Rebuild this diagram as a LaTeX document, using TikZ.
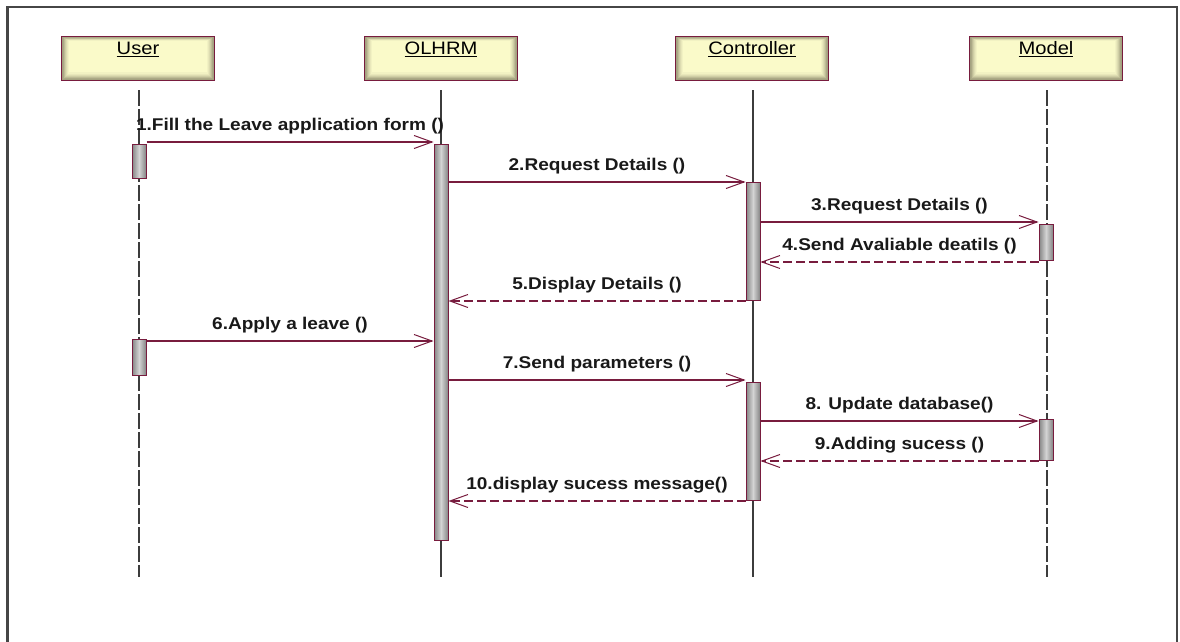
\documentclass[tikz,border=0pt]{standalone}
\usepackage{fontspec}
\setmainfont{Liberation Sans}
\newfontfamily\hdrfont[FakeStretch=1.12]{Liberation Sans}
\newfontfamily\msgfont[FakeStretch=1.12]{Liberation Sans}
\usetikzlibrary{arrows.meta,calc}
\definecolor{wine}{RGB}{120,28,62}
\definecolor{paleyel}{RGB}{255,255,206}
\definecolor{boxedge}{RGB}{125,122,95}
\definecolor{lifegray}{RGB}{60,60,60}
\definecolor{framegray}{RGB}{70,70,70}

% participant header: name, x centre, label
\newcommand\hdrbox[3]{%
  \node[minimum width=152pt,minimum height=43pt,inner sep=0pt,fill=boxedge!70!paleyel] (#1) at (#2,58.5) {};
  \foreach \k/\cc in {1/35,2/50,3/63,4/74,5/83,6/90,7/96}{%
    \fill[paleyel!\cc!boxedge] ([xshift=\k pt,yshift=-0.6*\k pt]#1.north west) rectangle ([xshift=-\k pt,yshift=1.1*\k pt]#1.south east);}
  \draw[wine,line width=1.2pt] (#1.north west) rectangle (#1.south east);
  \node[hdr] (#1t) at (#2,55) {\underline{#3}};
}

\begin{document}
\begin{tikzpicture}[x=1pt,y=-1pt,
  lifeline/.style={draw=lifegray,line width=1.1pt},
  dashlife/.style={lifeline,dash pattern=on 16pt off 3pt},
  msg/.style={draw=wine,line width=1.2pt,-{Straight Barb[length=18pt,width=13pt,line width=1pt]}},
  ret/.style={msg,dash pattern=on 9pt off 4pt},
  lbl/.style={font=\msgfont\bfseries\fontsize{17}{20}\selectfont,anchor=base,inner sep=0pt,text=black!90},
  hdr/.style={font=\hdrfont\fontsize{18}{21}\selectfont,anchor=base,inner sep=0pt},
  actbar/.style={rectangle,draw=wine,line width=1pt,minimum width=14pt,inner sep=0pt,anchor=north,
    left color=black!48,right color=black!48,middle color=black!17},
]
\useasboundingbox (0,0) rectangle (1180,642);
\fill[white] (0,0) rectangle (1180,642);

% frame
\draw[framegray,line width=2.2pt] (7.5,642) -- (7.5,7) -- (1177,7) -- (1177,642);

% participants
\hdrbox{hU}{138}{User}
\hdrbox{hO}{441}{OLHRM}
\hdrbox{hC}{752}{Controller}
\hdrbox{hM}{1046}{Model}

% lifeline ends
\coordinate (eU) at (139,577);
\coordinate (eO) at (441,577);
\coordinate (eC) at (753,577);
\coordinate (eM) at (1047,577);
\draw[dashlife] (eU |- 0,90) -- (eU);
\draw[lifeline] (eO |- 0,90) -- (eO);
\draw[lifeline] (eC |- 0,90) -- (eC);
\draw[dashlife] (eM |- 0,90) -- (eM);

% activation bars
\node[actbar,minimum height=34pt] (ua1) at (139,144) {};
\node[actbar,minimum height=36pt] (ua2) at (139,339) {};
\node[actbar,minimum height=396pt] (oa) at (441,144) {};
\node[actbar,minimum height=118pt] (ca1) at (753,182) {};
\node[actbar,minimum height=118pt] (ca2) at (753,382) {};
\node[actbar,minimum height=36pt] (ma1) at (1046,224) {};
\node[actbar,minimum height=41pt] (ma2) at (1046,419) {};

% message rows
\coordinate (r1) at (0,142);
\coordinate (r2) at (0,182);
\coordinate (r3) at (0,222);
\coordinate (r4) at (0,262);
\coordinate (r5) at (0,301);
\coordinate (r6) at (0,341);
\coordinate (r7) at (0,380);
\coordinate (r8) at (0,421);
\coordinate (r9) at (0,461);
\coordinate (r10) at (0,501);

% messages
\draw[msg] (ua1.east |- r1) -- node[lbl,yshift=12pt] (l1) {1.Fill the Leave application form ()} (oa.west |- r1);
\draw[msg] (oa.east |- r2) -- node[lbl,yshift=12pt] (l2) {2.Request Details ()} (ca1.west |- r2);
\draw[msg] (ca1.east |- r3) -- node[lbl,yshift=12pt] (l3) {3.Request Details ()} (ma1.west |- r3);
\draw[ret] (ma1.west |- r4) -- node[lbl,yshift=12pt] (l4) {4.Send Avaliable deatils ()} (ca1.east |- r4);
\draw[ret] (ca1.west |- r5) -- node[lbl,yshift=12pt] (l5) {5.Display Details ()} (oa.east |- r5);
\draw[msg] (ua2.east |- r6) -- node[lbl,yshift=12pt] (l6) {6.Apply a leave ()} (oa.west |- r6);
\draw[msg] (oa.east |- r7) -- node[lbl,yshift=12pt] (l7) {7.Send parameters ()} (ca2.west |- r7);
\draw[msg] (ca2.east |- r8) -- node[lbl,yshift=12pt] (l8) {8. Update database()} (ma2.west |- r8);
\draw[ret] (ma2.west |- r9) -- node[lbl,yshift=12pt] (l9) {9.Adding sucess ()} (ca2.east |- r9);
\draw[ret] (ca2.west |- r10) -- node[lbl,yshift=12pt] (l10) {10.display sucess message()} (oa.east |- r10);
\end{tikzpicture}
\end{document}
